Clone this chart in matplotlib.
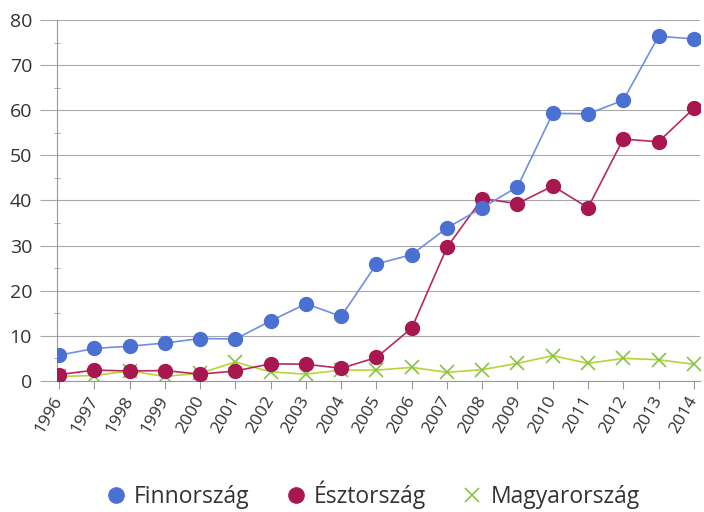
import matplotlib
matplotlib.use('Agg')
import matplotlib.pyplot as plt
from matplotlib.lines import Line2D
from matplotlib.ticker import MultipleLocator

plt.rcParams['font.family'] = ['Open Sans', 'DejaVu Sans']

years = list(range(1996, 2015))
finn = [5.7, 7.2, 7.7, 8.4, 9.4, 9.3, 13.3, 17.1, 14.3, 25.9, 28.0, 33.9,
        38.4, 43.0, 59.3, 59.2, 62.2, 76.4, 75.8]
eszt = [1.4, 2.4, 2.2, 2.3, 1.5, 2.2, 3.8, 3.7, 2.8, 5.2, 11.7, 29.6,
        40.4, 39.3, 43.2, 38.4, 53.6, 53.0, 60.4]
magyar = [1.0, 1.2, 2.2, 1.0, 1.7, 4.2, 2.0, 1.5, 2.4, 2.4, 3.0, 1.9,
          2.5, 3.9, 5.6, 3.9, 5.0, 4.7, 3.7]
labels = ['Finnország', 'Észtország', 'Magyarország']

blue, blue_line = '#4a70d2', '#6f8fe0'
red, red_line = '#a8174f', '#b8285e'
green, green_line = '#86c446', '#b9d437'

fig = plt.figure(figsize=(7.04, 5.12), dpi=100)
ax = fig.add_axes([0.081, 0.256, 0.913, 0.705])

ax.plot(years, finn, color=blue_line, lw=1.2, marker='o', ms=10,
        mfc=blue, mec=blue, zorder=4)
ax.plot(years, eszt, color=red_line, lw=1.2, marker='o', ms=10,
        mfc=red, mec=red, zorder=3)
ax.plot(years, magyar, color=green_line, lw=1.2, marker='x', ms=10, mew=1.2,
        mfc=green, mec=green, zorder=2)

ax.set_xlim(1995.94, 2014.17)
ax.set_ylim(0, 80)

for s in ['top', 'right']:
    ax.spines[s].set_visible(False)
for s in ['left', 'bottom']:
    ax.spines[s].set_color('#999999')
    ax.spines[s].set_linewidth(0.8)

ax.yaxis.set_major_locator(MultipleLocator(10))
ax.yaxis.set_minor_locator(MultipleLocator(5))
ax.grid(axis='y', which='major', color='#a8a8a8', lw=0.8)
ax.set_axisbelow(True)
ax.tick_params(axis='y', which='major', length=12, color='#a8a8a8',
               labelsize=14, labelcolor='#333333', pad=6)
ax.tick_params(axis='y', which='minor', length=5, direction='inout',
               color='#999999')

ax.set_xticks(years)
ax.set_xticklabels([str(y) for y in years], rotation=60, ha='right',
                   rotation_mode='anchor', va='center')
ax.tick_params(axis='x', length=6, color='#999999', labelsize=12.5,
               labelcolor='#333333', pad=6)

handles = [
    Line2D([], [], ls='none', marker='o', ms=11, mfc=blue, mec=blue),
    Line2D([], [], ls='none', marker='o', ms=11, mfc=red, mec=red),
    Line2D([], [], ls='none', marker='x', ms=10, mew=1.2, mec=green),
]
fig.legend(handles, labels, loc='lower center', bbox_to_anchor=(0.53, -0.035),
           ncol=3, frameon=False, fontsize=16.5, handlelength=0.8,
           handletextpad=0.4, columnspacing=1.6, labelcolor='#333333')

fig.savefig('out.png', dpi=100)
